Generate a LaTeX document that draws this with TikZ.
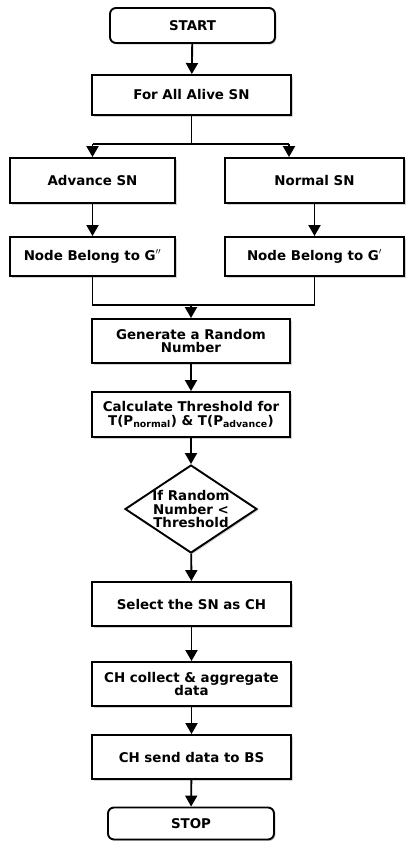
\documentclass[tikz,border=0pt]{standalone}
\usepackage{fontspec}
\setmainfont{DejaVu Sans}
\usetikzlibrary{shapes.geometric}
\usetikzlibrary{arrows.meta}
\usetikzlibrary{shadows}

\tikzset{
  blk/.style={draw, line width=1.9pt, fill=white, align=center, inner sep=0pt,
    font=\bfseries\fontsize{13.4}{13.5}\selectfont,
    drop shadow={opacity=0.35, shadow xshift=1.5pt, shadow yshift=-1.5pt}},
  term/.style={blk, rounded corners=6pt},
  dec/.style={blk, diamond, aspect=1.5, inner sep=-4pt, minimum width=132pt, minimum height=88pt},
  ln/.style={line width=1.9pt},
  arr/.style={ln, -{Triangle[width=12pt,length=11pt]}}
}

\begin{document}
\begin{tikzpicture}[x=1pt,y=-1pt]
  \useasboundingbox (0,0) rectangle (406,841);
  % terminals and boxes
  \node[term, minimum width=165pt, minimum height=35pt] (start) at (192.5,25.5) {START};
  \node[blk, minimum width=199pt, minimum height=40pt] (all) at (191.5,95) {For All Alive SN};
  \node[blk, minimum width=165pt, minimum height=45pt] (adv) at (92.5,180.5) {Advance SN};
  \node[blk, minimum width=179pt, minimum height=45pt] (norm) at (314.5,180.5) {Normal SN};
  \node[blk, minimum width=165pt, minimum height=39pt] (gdd) at (92.5,256.5) {Node Belong to G$''$};
  \node[blk, minimum width=179pt, minimum height=39pt] (gd) at (314.5,256.5) {Node Belong to G$'$};
  \node[blk, minimum width=198pt, minimum height=44pt] (gen) at (191,341) {Generate a Random\\Number};
  \node[blk, minimum width=198pt, minimum height=45pt] (calc) at (191,414.5)
    {Calculate Threshold for\\T(P\textsubscript{normal}) \& T(P\textsubscript{advance})};
  \node[dec] (test) at (191,509) {If Random\\Number <\\Threshold};
  \node[blk, minimum width=199pt, minimum height=44pt] (sel) at (191.5,604) {Select the SN as CH};
  \node[blk, minimum width=199pt, minimum height=44pt] (coll) at (191.5,684) {CH collect \& aggregate\\data};
  \node[blk, minimum width=199pt, minimum height=44pt] (send) at (191.5,757) {CH send data to BS};
  \node[term, minimum width=166pt, minimum height=32pt] (stop) at (191,823.5) {STOP};

  % split and merge points
  \coordinate (split) at (191.5,144);
  \coordinate (sl) at (92.5,144);
  \coordinate (sr) at (289,144);
  \coordinate (merge) at (191,305);

  \draw[arr] (start) -- (all);
  \draw[ln] (all) -- (split);
  \draw[ln] (sl) -- (sr);
  \draw[arr] (sl) -- (adv);
  \draw[arr] (sr) -- (sr |- norm.north);
  \draw[arr] (adv) -- (gdd);
  \draw[arr] (norm) -- (gd);
  \draw[ln] (gdd) |- (merge) -| (gd);
  \draw[arr] (merge) -- (gen);
  \draw[arr] (gen) -- (calc);
  \draw[arr] (calc) -- (test);
  \draw[arr] (test) -- (sel);
  \draw[arr] (sel) -- (coll);
  \draw[arr] (coll) -- (send);
  \draw[arr] (send) -- (stop);
\end{tikzpicture}
\end{document}
